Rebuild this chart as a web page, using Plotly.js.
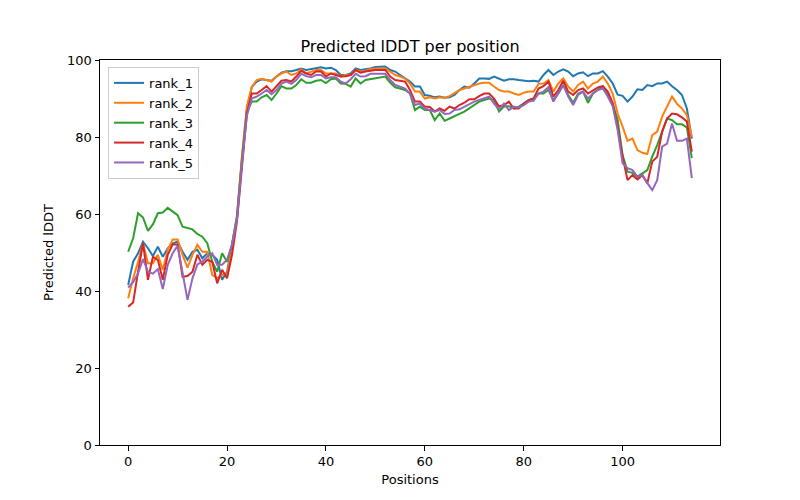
<!DOCTYPE html>
<html>
<head>
<meta charset="utf-8">
<script src="https://cdn.plot.ly/plotly-3.0.1.min.js"></script>
<style>html,body{margin:0;padding:0;background:#fff;}#chart{width:800px;height:500px;}</style>
</head>
<body>
<div id="chart"></div>
<script>
const seriesNames = ["rank_1", "rank_2", "rank_3", "rank_4", "rank_5"];
const seriesColors = ["#1f77b4", "#ff7f0e", "#2ca02c", "#d62728", "#9467bd"];

const rank_1 = [41.6, 47.6, 49.8, 52.8, 51.1, 49.1, 51.5, 48.9, 51.1, 52.4, 52.8, 50.2, 48.1, 50.2, 50.7, 48.5, 49.8, 49.4, 48.1, 42.9, 45, 52,
  59.3, 74, 87,
  93, 94.4, 95, 94.8, 94.6, 95.7, 96.7, 97.1, 97.1, 97.4, 97.8, 97.4, 97.6, 97.8, 98.1, 97.8,
  98, 97.4, 96.1, 96.1, 96.5, 97.8, 97.4, 97.6, 97.8, 98.2, 98.3, 98.3, 97.4, 97, 96.1, 95.2, 94.4, 93.1,
  93.1, 90.9, 90.7, 90.3, 90.5, 90.2, 90.3, 90.9, 92.2, 93.1, 92.8, 93.9, 95.2, 95.2, 95.1, 95.7, 95.2, 94.6, 95, 95, 94.8, 94.6, 94.5,
  94.6, 94.4, 96.1, 97.4, 96.1, 97, 97.6, 97, 95.8, 96.5, 96.8, 95.8, 96.5, 96.5, 97.1, 95.7, 93.9, 91, 90.7, 89.2,
  90.5, 92.4, 92.2, 93.5, 93.2, 93.9, 93.9, 94.4, 93.2, 92.2, 90.9, 87.4, 79.6];

const rank_2 = [38.1, 43.3, 47.6, 52.4, 47.2, 47.2, 49.4, 45.5, 50.7, 53.4, 53.4, 49.4, 46.1, 49.4, 52, 50.2, 50.2, 44.2, 43.3, 44.2, 44.2, 52,
  59.5, 75, 88,
  93, 94.8, 95.1, 94.8, 94.4, 95.7, 96.5, 97, 96.1, 96.5, 97.6, 96.5, 97, 97.4, 97.4, 96.5,
  96.5, 96.5, 95.7, 96.1, 96.1, 97.4, 97, 97.2, 97.6, 97.8, 97.8, 97.8, 97, 96.1, 95.7, 95.2, 93.9, 91.8,
  91.8, 90, 90.3, 90, 90.3, 90.2, 90.6, 91.3, 92.2, 92.6, 93.1, 93.5, 93.9, 94.1, 94.1, 93.1, 92.2, 91.8, 91.8, 91.3, 90.9, 91.5, 91.8,
  91.8, 93.8, 93.9, 94.8, 91.8, 93.9, 95.2, 93.1, 91.8, 93.5, 94.4, 92.6, 93.9, 94.4, 95.7, 93.9, 91.3, 86.1, 82.7, 79,
  79.6, 76.6, 75.9, 75.6, 80.5, 81.4, 85.3, 87.9, 90.5, 88.6, 87.4, 85.7, 80.1];

const rank_3 = [50.2, 53.7, 60.2, 59.1, 55.6, 57.3, 60.2, 60.4, 61.6, 60.6, 59.7, 56.7, 56.3, 56, 54.8, 54.1, 52.4, 47.6, 45, 49.8, 47.6, 52,
  59, 74, 86.5,
  89.2, 89.2, 90.3, 90.9, 89.6, 91.3, 93.2, 92.6, 92.6, 93.5, 95, 94.1, 94.1, 94.6, 94.8, 94,
  95, 95.2, 93.9, 93.8, 93.1, 95.2, 93.9, 94.8, 95, 95.2, 95.5, 95.7, 94.1, 92.9, 92.6, 92.2, 91.3, 87,
  87.9, 87, 87, 84.4, 86.1, 84.2, 84.8, 85.3, 86, 86.6, 87.4, 88.3, 89.2, 89.6, 90, 89.6, 86.6, 87.9, 88, 87.4, 87.9, 88.7, 89.6,
  90, 91.3, 91.3, 92.2, 89.6, 91.3, 93.5, 90.9, 88.9, 91.3, 91.8, 88.9, 91.3, 92.2, 93.2, 90.9, 88.5, 84.4, 75.3, 71,
  70.7, 69.7, 70.6, 71.4, 74.9, 77.9, 81.4, 84.8, 84.4, 83.3, 83.3, 82.5, 74.5];

const rank_4 = [35.9, 37, 45, 52.4, 42.9, 48.9, 48.1, 42.9, 49.4, 52.1, 52.1, 43.7, 43.9, 45, 49.4, 46.8, 48.1, 47.6, 42, 45.5, 43.3, 49.4,
  58, 73, 86,
  91.3, 91.3, 92.2, 93.2, 91.8, 93.1, 94.6, 94.8, 94.4, 95.7, 97.2, 96.5, 96.1, 97, 97, 95.7,
  96.5, 96.1, 95.7, 95.8, 96.1, 97.4, 96.7, 97, 97.2, 97.4, 97.4, 97.4, 95.7, 94.8, 94.6, 94.4, 92.2, 89.2,
  89.2, 87.9, 87.8, 86.6, 87.4, 86.8, 87.9, 87.4, 88.3, 88.9, 89.8, 89.8, 90.6, 91.3, 91.3, 90, 87.9, 88.3, 89.2, 87.4, 87.4, 88.7, 89.6,
  90, 92.6, 93.2, 94.4, 90.5, 92.2, 94.6, 91.8, 90.9, 92.2, 92.6, 91.3, 92.2, 92.9, 93.2, 91.8, 88.8, 82.5, 74.9, 68.8,
  70.1, 69, 70.1, 68, 73.6, 74.9, 81.4, 84.8, 86.1, 85.9, 85.1, 84, 76.2];

const rank_5 = [40.9, 42.3, 44.6, 48.3, 45, 44.5, 45.7, 40.5, 46.8, 49.8, 51.8, 45, 37.7, 43.3, 46.9, 47.6, 48.9, 49.8, 46.8, 46.8, 48.1, 52,
  58.5, 73, 85.5,
  90, 90.5, 91.3, 92.2, 91.1, 92.2, 93.9, 94.4, 93.8, 94.8, 96.4, 95.8, 95.5, 96.1, 96.1, 95.2,
  95.5, 95.5, 94.4, 93.9, 95, 96.4, 95.7, 95.8, 96.4, 96.4, 96.4, 96.4, 94.8, 93.5, 93.1, 92.6, 91.3, 88.3,
  88.7, 87.4, 87, 86.6, 87, 86, 86.1, 87, 87.2, 87.9, 88.7, 89.2, 89.6, 90, 90.5, 88.7, 87.2, 88.7, 87, 87.9, 87.6, 88.3, 89.2,
  89.4, 91.3, 91.8, 92.9, 89.2, 91.3, 93.5, 90.5, 88.3, 90.9, 91.8, 90, 91.3, 92.2, 92.6, 90.5, 88, 81.8, 73.2, 71.9,
  71.4, 69.7, 70.1, 68, 66.2, 68.8, 77.5, 78.3, 83.5, 79, 79, 79.6, 69.3];

const seriesValues = [rank_1, rank_2, rank_3, rank_4, rank_5];
const positions = rank_1.map((_, i) => i);
const xTicks = [0, 20, 40, 60, 80, 100];
const yTicks = [0, 20, 40, 60, 80, 100];

const font = "DejaVu Sans, sans-serif";
const traces = seriesNames.map((name, k) => ({
  type: "scatter", mode: "lines", name: name,
  x: positions, y: seriesValues[k],
  line: {color: seriesColors[k], width: 2}
}));

const axisCommon = {
  showgrid: false, zeroline: false, showline: true, mirror: true,
  linecolor: "#000", linewidth: 1, ticks: "outside", ticklen: 4.5, tickwidth: 1, tickcolor: "#000",
  tickfont: {family: font, size: 13, color: "#000"}
};

const layout = {
  width: 800, height: 500,
  margin: {l: 100, r: 80, t: 60, b: 55},
  paper_bgcolor: "#fff", plot_bgcolor: "#fff",
  font: {family: font, color: "#000"},
  title: {text: "Predicted lDDT per position", font: {family: font, size: 16, color: "#000"},
          x: 0.5, xref: "paper", y: 0.908, yref: "container", yanchor: "middle"},
  xaxis: Object.assign({}, axisCommon, {range: [-5.7, 119.7], tickvals: xTicks,
          title: {text: "Positions", font: {family: font, size: 13, color: "#000"}, standoff: 6}}),
  yaxis: Object.assign({}, axisCommon, {range: [0, 100], tickvals: yTicks,
          title: {text: "Predicted lDDT", font: {family: font, size: 13, color: "#000"}, standoff: 10}}),
  legend: {x: 0.013, y: 0.982, xanchor: "left", yanchor: "top", bgcolor: "rgba(255,255,255,0.8)",
           bordercolor: "#cccccc", borderwidth: 1, font: {family: font, size: 13, color: "#000"},
           tracegroupgap: 0},
  showlegend: true
};

Plotly.newPlot("chart", traces, layout, {staticPlot: true, displayModeBar: false});
</script>
</body>
</html>
